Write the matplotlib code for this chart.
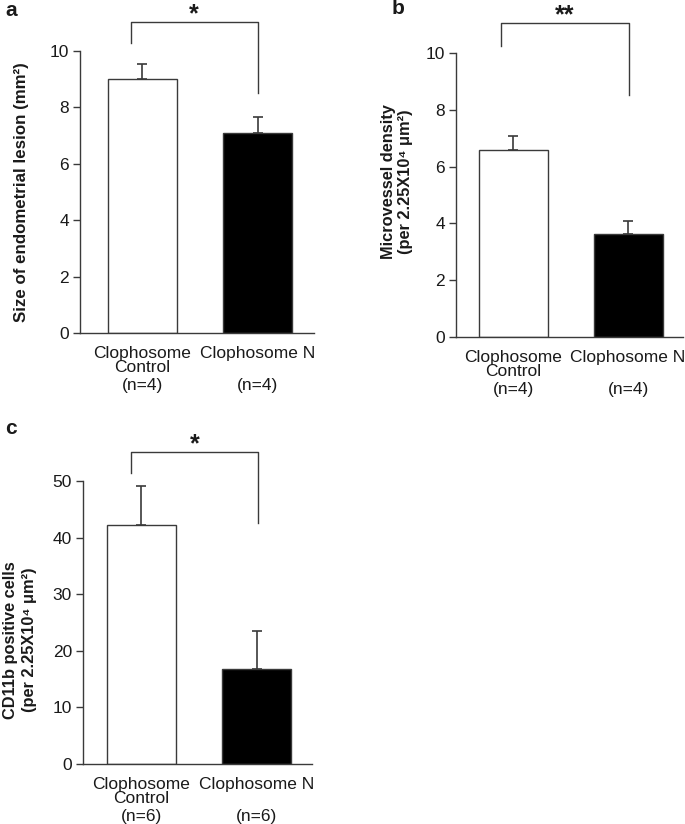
import numpy as np
import matplotlib
matplotlib.use("Agg")
import matplotlib.pyplot as plt

plt.rcParams['font.family'] = ['Liberation Sans', 'DejaVu Sans']
plt.rcParams['font.size'] = 12
plt.rcParams['text.color'] = '#1a1a1a'
plt.rcParams['xtick.color'] = '#1a1a1a'
plt.rcParams['ytick.color'] = '#1a1a1a'

# data
groups = ["Clophosome\nControl", "Clophosome N"]
size_mean = [9.0, 7.1]
size_err = [0.55, 0.55]
mvd_mean = [6.58, 3.61]
mvd_err = [0.48, 0.48]
cd11b_mean = [42.3, 16.7]
cd11b_err = [6.9, 6.8]
n_ab = ["(n=4)", "(n=4)"]
n_c = ["(n=6)", "(n=6)"]

W, H = 685, 824
fig = plt.figure(figsize=(W / 100, H / 100), dpi=100)
edge = '#3a3a3a'


def px_axes(l, r, t, b):
    return fig.add_axes([l / W, 1 - b / H, (r - l) / W, (b - t) / H])


def panel(ax, mean, err, nlab, ymax, step, xlim, bracket, star):
    x = np.arange(len(mean))
    ax.bar(x, mean, width=0.6, color=['white', 'black'], edgecolor=edge,
           linewidth=1.0, zorder=2)
    ax.errorbar(x, mean, yerr=[np.zeros(len(err)), err], fmt='none',
                ecolor=edge, elinewidth=1.2, capsize=3.6, capthick=1.2, zorder=1)
    ax.set_xlim(*xlim)
    ax.set_ylim(0, ymax)
    ax.set_yticks(np.arange(0, ymax + 0.1, step))
    ax.tick_params(axis='y', length=5, width=1, color=edge, pad=3, labelsize=12.5)
    ax.set_xticks([])
    for s in ['top', 'right']:
        ax.spines[s].set_visible(False)
    for s in ['left', 'bottom']:
        ax.spines[s].set_color(edge)
        ax.spines[s].set_linewidth(1.0)
    # group labels under the bars
    for i, g in enumerate(groups):
        lines = g.split("\n")
        for j, ln in enumerate(lines):
            ax.annotate(ln, xy=(i, 0), xycoords=('data', 'axes fraction'),
                        xytext=(0, -9.5 - 10 * j), textcoords='offset points',
                        ha='center', va='top', fontsize=12.5)
        ax.annotate(nlab[i], xy=(i, 0), xycoords=('data', 'axes fraction'),
                    xytext=(0, -32.5), textcoords='offset points',
                    ha='center', va='top', fontsize=12.5)
    # significance bracket
    xl, xr, ytop, yl, yr = bracket
    ax.plot([xl, xl, xr, xr], [yl, ytop, ytop, yr], color=edge, lw=1.0,
            clip_on=False)
    ax.annotate(star, xy=((xl + xr) / 2, ytop), xycoords='data',
                xytext=(0, 0.5), textcoords='offset points',
                ha='center', va='baseline', fontsize=18, fontweight='bold',
                annotation_clip=False)


ax_a = px_axes(80, 314, 51, 333)
panel(ax_a, size_mean, size_err, n_ab, 10, 2, (-0.543, 1.491),
      (-0.1, 1.0, 11.04, 10.28, 8.51), "*")

ax_b = px_axes(456, 683, 53, 337)
panel(ax_b, mvd_mean, mvd_err, n_ab, 10, 2, (-0.496, 1.478),
      (-0.104, 1.01, 11.04, 10.26, 8.53), "**")

ax_c = px_axes(83, 312, 481, 764)
panel(ax_c, cd11b_mean, cd11b_err, n_c, 50, 10, (-0.504, 1.48),
      (-0.09, 1.01, 55.1, 51.4, 42.5), "*")

# axis titles
fig.text(22 / W, 1 - 192 / H, "Size of endometrial lesion (mm²)", rotation=90,
         ha='center', va='center', fontsize=12.2, fontweight='bold')
fig.text(397 / W, 1 - 182 / H, "Microvessel density\n(per 2.25X10⁴ μm²)",
         rotation=90, ha='center', va='center', fontsize=11.8,
         fontweight='bold', linespacing=1.2, multialignment='center')
fig.text(20 / W, 1 - 640 / H, "CD11b positive cells\n(per 2.25X10⁴ μm²)",
         rotation=90, ha='center', va='center', fontsize=11.8,
         fontweight='bold', linespacing=1.3, multialignment='center')

# panel letters
fig.text(11 / W, 1 - 11 / H, "a", ha='center', va='center', fontsize=15,
         fontweight='bold')
fig.text(398 / W, 1 - 9 / H, "b", ha='center', va='center', fontsize=15,
         fontweight='bold')
fig.text(11 / W, 1 - 428 / H, "c", ha='center', va='center', fontsize=15,
         fontweight='bold')

fig.savefig("out.png", dpi=100)
